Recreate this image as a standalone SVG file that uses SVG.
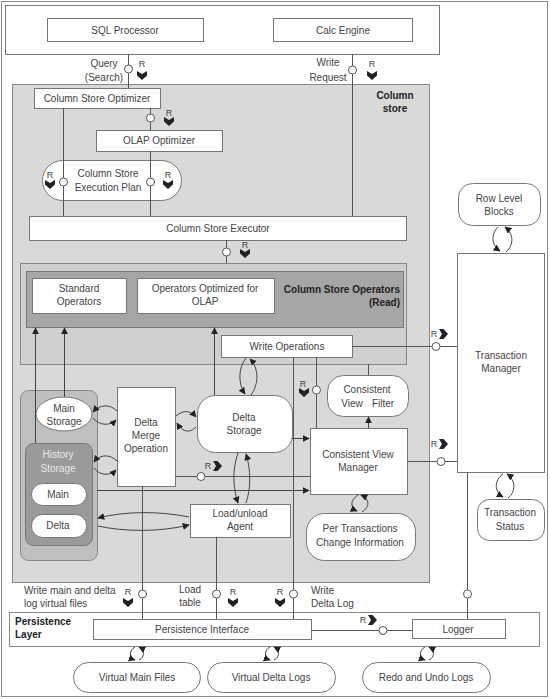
<svg xmlns="http://www.w3.org/2000/svg" width="550" height="699" viewBox="0 0 550 699">
<style>
text{font-family:"Liberation Sans",Arial,sans-serif;font-size:10px;fill:#444;text-anchor:middle}
.b{font-weight:bold;fill:#222}
.l{text-anchor:start}
.r{font-size:9px}
.hs{fill:#e8e8e8}
.box{fill:#fff;stroke:#777;stroke-width:1}
.ln{fill:none;stroke:#555;stroke-width:1}
.ar{fill:none;stroke:#444;stroke-width:1;marker-end:url(#ah)}
.port{fill:#fff;stroke:#555;stroke-width:1}
.ch{fill:#222}
</style>
<defs>
<marker id="ah" viewBox="0 0 10 10" refX="9" refY="5" markerWidth="7" markerHeight="7" markerUnits="userSpaceOnUse" orient="auto"><path d="M0,0 L10,5 L0,10 z" fill="#222"/></marker>
<path id="cd" d="M0,0 L5,3 L10,0 L10,4.5 L5,9 L0,4.5 Z"/>
<path id="cr" d="M0,0 L4.5,0 L9,5 L4.5,10 L0,10 L3,5 Z"/>
</defs>
<rect x="1.5" y="1.5" width="546" height="695" fill="#fff" stroke="#888"/>
<g id="containers">
<rect id="top-layer" x="5.5" y="5.5" width="434" height="49" class="box"/>
<g id="column-store"><rect x="12.5" y="84.5" width="417" height="498" fill="#d9d9d9" stroke="#888"/>
<text class="b" x="395" y="99">Column</text><text class="b" x="395" y="112">store</text></g>
<g id="column-store-operators"><rect x="20.5" y="263.5" width="386" height="101" fill="#d0d0d0" stroke="#888"/>
<rect x="26.5" y="271.5" width="377" height="56" fill="#a6a6a6" stroke="#777"/>
<text class="b" x="400" y="293" style="text-anchor:end">Column Store Operators</text>
<text class="b" x="400" y="306" style="text-anchor:end">(Read)</text></g>
<rect id="history-container" x="20.5" y="390.5" width="77" height="170" rx="8" fill="#bfbfbf" stroke="#888"/>
<g id="persistence-layer"><rect x="9.5" y="612.5" width="530" height="34" fill="#fff" stroke="#888"/>
<text class="b l" x="15" y="625">Persistence</text><text class="b l" x="15" y="638">Layer</text></g>
</g>
<g id="nodes">
<g id="sql-processor"><rect x="47.5" y="18.5" width="156" height="23" class="box"/><text x="125" y="33.5">SQL Processor</text></g>
<g id="calc-engine"><rect x="273.5" y="18.5" width="139" height="23" class="box"/><text x="343" y="33.5">Calc Engine</text></g>
<g id="cs-optimizer"><rect x="34.5" y="88.5" width="126" height="20" class="box"/><text x="97" y="102">Column Store Optimizer</text></g>
<g id="olap-optimizer"><rect x="96.5" y="130.5" width="126" height="21" class="box"/><text x="159" y="144">OLAP Optimizer</text></g>
<g id="execution-plan"><rect x="42.5" y="160.5" width="139" height="40" rx="20" class="box"/><text x="108" y="177">Column Store</text><text x="108" y="191">Execution Plan</text></g>
<g id="cs-executor"><rect x="29.5" y="216.5" width="377" height="24" class="box"/><text x="218" y="232">Column Store Executor</text></g>
<g id="standard-operators"><rect x="32.5" y="278.5" width="94" height="35" class="box"/><text x="79" y="292">Standard</text><text x="79" y="305">Operators</text></g>
<g id="olap-operators"><rect x="137.5" y="278.5" width="137" height="35" class="box"/><text x="205" y="292">Operators Optimized for</text><text x="205" y="305">OLAP</text></g>
<g id="write-operations"><rect x="221.5" y="335.5" width="131" height="22" class="box"/><text x="287" y="350">Write Operations</text></g>
<g id="main-storage"><ellipse cx="64" cy="414" rx="28" ry="17" class="box"/><text x="64" y="412">Main</text><text x="64" y="425">Storage</text></g>
<g id="history-storage"><rect x="25.5" y="443.5" width="67" height="102" rx="8" fill="#9a9a9a" stroke="#777"/><text class="hs" x="58" y="458">History</text><text class="hs" x="58" y="472">Storage</text>
<rect x="31.5" y="483.5" width="55" height="22" rx="11" class="box"/><text x="58" y="498">Main</text>
<rect x="31.5" y="514.5" width="55" height="23" rx="11" class="box"/><text x="58" y="529">Delta</text></g>
<g id="delta-merge"><rect x="117.5" y="387.5" width="58" height="99" class="box"/><text x="146" y="426">Delta</text><text x="146" y="439">Merge</text><text x="146" y="452">Operation</text></g>
<g id="delta-storage"><rect x="197.5" y="395.5" width="95" height="57" rx="18" class="box"/><text x="244" y="421">Delta</text><text x="244" y="434">Storage</text></g>
<g id="load-unload"><rect x="190.5" y="504.5" width="100" height="33" class="box"/><text x="240" y="517">Load/unload</text><text x="240" y="530">Agent</text></g>
<g id="cv-filter"><rect x="327.5" y="375.5" width="81" height="41" rx="16" class="box"/><text x="367" y="393">Consistent</text><text y="407"><tspan x="352">View</tspan><tspan x="383">Filter</tspan></text></g>
<g id="cv-manager"><rect x="310.5" y="428.5" width="97" height="66" class="box"/><text x="358" y="458">Consistent View</text><text x="358" y="471">Manager</text></g>
<g id="per-transactions"><rect x="306.5" y="513.5" width="109" height="47" rx="18" class="box"/><text x="360" y="532">Per Transactions</text><text x="360" y="546">Change Information</text></g>
<g id="row-level-blocks"><rect x="458.5" y="183.5" width="82" height="42" rx="14" class="box"/><text x="499" y="202">Row Level</text><text x="499" y="215">Blocks</text></g>
<g id="transaction-manager"><rect x="457.5" y="253.5" width="87" height="219" class="box"/><text x="501" y="359">Transaction</text><text x="501" y="372">Manager</text></g>
<g id="transaction-status"><rect x="477.5" y="499.5" width="67" height="41" rx="12" class="box"/><text x="510" y="516">Transaction</text><text x="510" y="530">Status</text></g>
<g id="persistence-interface"><rect x="93.5" y="619.5" width="218" height="20" class="box"/><text x="202" y="633">Persistence Interface</text></g>
<g id="logger"><rect x="412.5" y="619.5" width="93" height="19" class="box"/><text x="458" y="633">Logger</text></g>
<g id="virtual-main-files"><rect x="73.5" y="662.5" width="127" height="30" rx="15" class="box"/><text x="137" y="681">Virtual Main Files</text></g>
<g id="virtual-delta-logs"><rect x="207.5" y="662.5" width="128" height="30" rx="15" class="box"/><text x="271" y="681">Virtual Delta Logs</text></g>
<g id="redo-undo-logs"><rect x="362.5" y="662.5" width="128" height="30" rx="15" class="box"/><text x="426" y="681">Redo and Undo Logs</text></g>
</g>
<g id="connectors">
<path class="ln" d="M128.5,54 V88 M352.5,54 V216 M63.5,108 V216 M150.5,108 V130 M150.5,151 V216 M226.5,240 V263 M352,346.5 H457 M293.5,357 V619 M316.5,357 V428 M368.5,364 V375 M175,476.5 H310 M407,461.5 H457 M142.5,486 V619 M216.5,537 V619 M467.5,472 V619 M311,630.5 H412"/>
<path class="ar" d="M35.5,443 V328"/>
<path class="ar" d="M64.5,397 V328"/>
<path class="ar" d="M214.5,395 V328"/>
<path class="ar" d="M292,438.5 H309"/>
<path class="ar" d="M97,490.5 H309"/>
<path class="ar" d="M368.5,428 V417"/>
<path class="ar" d="M246,358 C238,368 238,384 245,394"/>
<path class="ar" d="M251,395 C259,384 259,368 250,359"/>
<path class="ar" d="M238,453 C232,470 233,488 238,503"/>
<path class="ar" d="M246,503 C251,488 251,470 246,454"/>
<path class="ar" d="M117,411 C110,404 100,404 93,412"/>
<path class="ar" d="M93,418 C100,426 110,426 116,420"/>
<path class="ar" d="M117,461 C110,454 100,454 94,462"/>
<path class="ar" d="M94,468 C100,476 110,476 116,470"/>
<path class="ar" d="M176,416 C183,410 190,410 196,417"/>
<path class="ar" d="M196,427 C190,433 183,433 177,423"/>
<path class="ar" d="M498,227 C491,234 491,245 500,251"/>
<path class="ar" d="M506,252 C514,245 514,234 505,227"/>
<path class="ar" d="M503,474 C494,480 494,492 503,497"/>
<path class="ar" d="M508,498 C516,492 516,480 507,474"/>
<path class="ar" d="M358,495 C350,500 350,508 357,511"/>
<path class="ar" d="M362,512 C370,507 370,499 361,495"/>
<path class="ar" d="M135,647 C129,650 129,658 135,660"/>
<path class="ar" d="M139,660 C145,657 145,650 139,647"/>
<path class="ar" d="M270,647 C264,650 264,658 270,660"/>
<path class="ar" d="M274,660 C280,657 280,650 274,647"/>
<path class="ar" d="M425,647 C419,650 419,658 425,660"/>
<path class="ar" d="M429,660 C435,657 435,650 429,647"/>
<path class="ar" d="M189,517 C160,511 125,511 98,518"/>
<path class="ar" d="M98,526 C125,532 160,532 189,525"/>
<g id="ports">
<circle class="port" cx="128.5" cy="69" r="4"/>
<circle class="port" cx="352.5" cy="70" r="4"/>
<circle class="port" cx="150.5" cy="118" r="4"/>
<circle class="port" cx="63.5" cy="182" r="4"/>
<circle class="port" cx="150.5" cy="182" r="4"/>
<circle class="port" cx="226.5" cy="252" r="4"/>
<circle class="port" cx="436" cy="346.5" r="4"/>
<circle class="port" cx="316.5" cy="390" r="4"/>
<circle class="port" cx="201" cy="476.5" r="4"/>
<circle class="port" cx="441" cy="461.5" r="4"/>
<circle class="port" cx="142.5" cy="594" r="4"/>
<circle class="port" cx="216.5" cy="594" r="4"/>
<circle class="port" cx="293.5" cy="594" r="4"/>
<circle class="port" cx="467.5" cy="594" r="4"/>
<circle class="port" cx="383" cy="630.5" r="4"/>
</g>
<g id="r-marks">
<text class="r" x="142" y="67">R</text><use href="#cd" class="ch" x="137" y="71"/>
<text class="r" x="372" y="67">R</text><use href="#cd" class="ch" x="367" y="71"/>
<text class="r" x="169" y="116">R</text><use href="#cd" class="ch" x="164" y="117"/>
<text class="r" x="50" y="178">R</text><use href="#cd" class="ch" x="45" y="180"/>
<text class="r" x="168" y="178">R</text><use href="#cd" class="ch" x="163" y="180"/>
<text class="r" x="245" y="248">R</text><use href="#cd" class="ch" x="240" y="249"/>
<text class="r" x="434" y="337">R</text><use href="#cr" class="ch" x="439" y="329"/>
<text class="r" x="303" y="387">R</text><use href="#cd" class="ch" x="299" y="388"/>
<text class="r" x="208" y="469">R</text><use href="#cr" class="ch" x="213" y="461"/>
<text class="r" x="434" y="447">R</text><use href="#cr" class="ch" x="439" y="439"/>
<text class="r" x="128" y="595">R</text><use href="#cd" class="ch" x="123" y="598"/>
<text class="r" x="233" y="595">R</text><use href="#cd" class="ch" x="228" y="598"/>
<text class="r" x="280" y="595">R</text><use href="#cd" class="ch" x="275" y="598"/>
<text class="r" x="363" y="623">R</text><use href="#cr" class="ch" x="368" y="615"/>
</g>
<g id="connector-labels">
<text x="104" y="67">Query</text><text x="104" y="81">(Search)</text>
<text x="328" y="66">Write</text><text x="328" y="81">Request</text>
<text class="l" x="24" y="594">Write main and delta</text><text class="l" x="24" y="607">log virtual files</text>
<text x="190" y="593">Load</text><text x="190" y="606">table</text>
<text class="l" x="311" y="594">Write</text><text class="l" x="311" y="607">Delta Log</text>
</g>
</g>
</svg>
